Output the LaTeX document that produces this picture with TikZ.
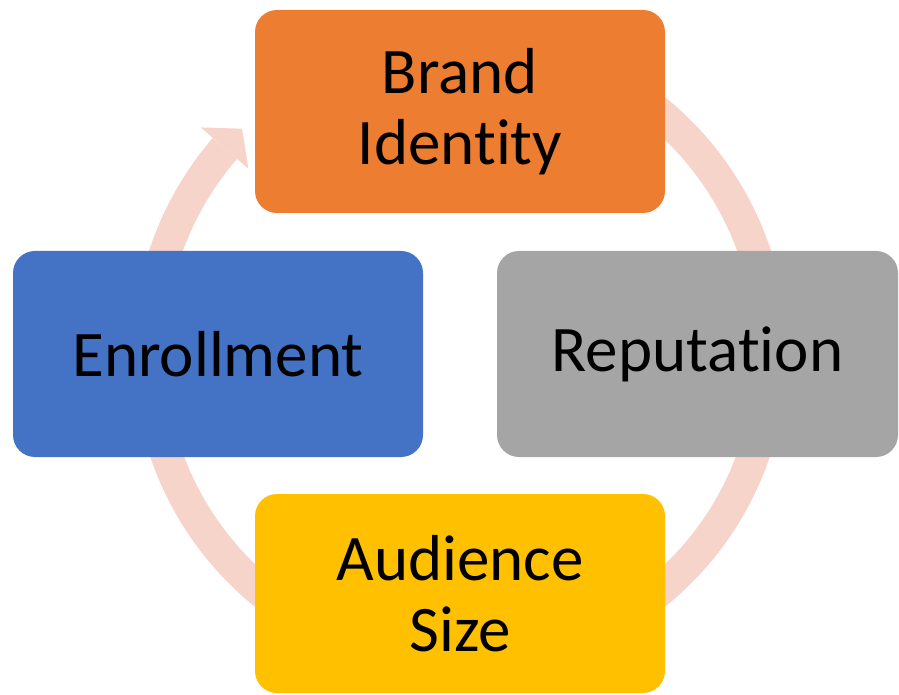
\documentclass[tikz,border=0pt]{standalone}
\usepackage{fontspec}
\setmainfont{Carlito}[Ligatures=CommonOff]
\usetikzlibrary{calc}
\definecolor{cOrange}{HTML}{ED7D31}
\definecolor{cBlue}{HTML}{4472C4}
\definecolor{cGray}{HTML}{A5A5A5}
\definecolor{cYellow}{HTML}{FFC000}
\definecolor{cRing}{HTML}{F7D4C9}
\tikzset{
  box/.style={rounded corners=22pt, inner sep=0pt, align=center,
    font=\fontsize{65}{71}\selectfont, text=black},
  ring/.style={draw=cRing, line width=32pt},
}
\begin{document}
\begin{tikzpicture}[x=1pt,y=1pt]
\useasboundingbox (0,0) rectangle (899,694);
\coordinate (c) at (460,342);
% ring (behind boxes)
\draw[ring] ($(c)+(80:311)$) arc[start angle=80, end angle=-220.9, radius=311pt];
\fill[cRing] ($(c)+(139.1:343)$) -- ($(c)+(134.3:312)$) -- ($(c)+(139.1:280)$) -- cycle;
% boxes
\node[box, fill=cOrange, minimum width=410pt, minimum height=203pt] (brand) at (460,582.5) {Brand\\Identity};
\node[box, fill=cBlue, minimum width=410pt, minimum height=206pt] (enroll) at (218,340) {Enrollment};
\node[box, fill=cGray, minimum width=401pt, minimum height=206pt] (rep) at (697.5,340) {Reputation};
\node[box, fill=cYellow, minimum width=410pt, minimum height=199pt] (aud) at (460,100.5) {Audience\\Size};
\end{tikzpicture}
\end{document}
